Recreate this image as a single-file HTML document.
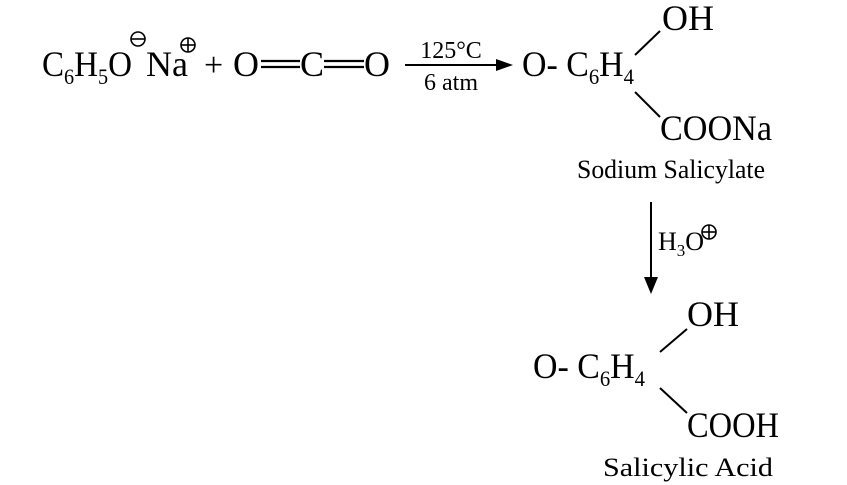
<!DOCTYPE html>
<html><head><meta charset="utf-8"><style>
html,body{margin:0;padding:0;background:#fff;}
svg{display:block;}
text{font-family:"Liberation Serif",serif;fill:#000;}
</style></head><body>
<svg width="847" height="485" viewBox="0 0 847 485" xmlns="http://www.w3.org/2000/svg">
<!-- Reactants -->
<text x="42" y="76" font-size="36" textLength="90" lengthAdjust="spacingAndGlyphs">C<tspan font-size="22" dy="8">6</tspan><tspan dy="-8">H</tspan><tspan font-size="22" dy="8">5</tspan><tspan dy="-8">O</tspan></text>
<circle cx="138" cy="39" r="7" fill="none" stroke="#000" stroke-width="1.6"/>
<line x1="131" y1="39" x2="145" y2="39" stroke="#000" stroke-width="1.6"/>
<text x="146" y="76" font-size="36">Na</text>
<circle cx="188" cy="45" r="7" fill="none" stroke="#000" stroke-width="1.6"/>
<line x1="181" y1="45" x2="195" y2="45" stroke="#000" stroke-width="1.6"/>
<line x1="188" y1="38" x2="188" y2="52" stroke="#000" stroke-width="1.6"/>
<text x="204" y="76" font-size="34">+</text>
<text x="233" y="76" font-size="36">O</text>
<line x1="261" y1="61" x2="300" y2="61" stroke="#000" stroke-width="2.2"/>
<line x1="261" y1="67" x2="300" y2="67" stroke="#000" stroke-width="2.2"/>
<text x="300" y="76" font-size="36">C</text>
<line x1="324" y1="61" x2="364" y2="61" stroke="#000" stroke-width="2.2"/>
<line x1="324" y1="67" x2="364" y2="67" stroke="#000" stroke-width="2.2"/>
<text x="364" y="76" font-size="36">O</text>
<!-- Arrow 1 -->
<line x1="405" y1="65" x2="500" y2="65" stroke="#000" stroke-width="2"/>
<polygon points="496,59 513,65 496,71" fill="#000"/>
<text x="451" y="58" font-size="24" text-anchor="middle">125°C</text>
<text x="451" y="90" font-size="24" text-anchor="middle">6 atm</text>
<!-- Product 1 -->
<text x="662" y="30" font-size="36">OH</text>
<text x="522" y="76" font-size="36" textLength="112" lengthAdjust="spacingAndGlyphs">O- C<tspan font-size="22" dy="8">6</tspan><tspan dy="-8">H</tspan><tspan font-size="22" dy="8">4</tspan></text>
<line x1="635" y1="55" x2="660" y2="31" stroke="#000" stroke-width="2"/>
<line x1="635" y1="92" x2="660" y2="117" stroke="#000" stroke-width="2"/>
<text x="660" y="140" font-size="36" textLength="112" lengthAdjust="spacingAndGlyphs">COONa</text>
<text x="577" y="178" font-size="26" textLength="188" lengthAdjust="spacingAndGlyphs">Sodium Salicylate</text>
<!-- Arrow 2 -->
<line x1="651" y1="202" x2="651" y2="280" stroke="#000" stroke-width="2"/>
<polygon points="644,277 651,294 658,277" fill="#000"/>
<text x="658" y="250" font-size="26">H<tspan font-size="17" dy="6">3</tspan><tspan dy="-6">O</tspan></text>
<circle cx="709" cy="232" r="7" fill="none" stroke="#000" stroke-width="1.6"/>
<line x1="702" y1="232" x2="716" y2="232" stroke="#000" stroke-width="1.6"/>
<line x1="709" y1="225" x2="709" y2="239" stroke="#000" stroke-width="1.6"/>
<!-- Product 2 -->
<text x="687" y="326" font-size="36">OH</text>
<text x="533" y="378" font-size="36" textLength="112" lengthAdjust="spacingAndGlyphs">O- C<tspan font-size="22" dy="8">6</tspan><tspan dy="-8">H</tspan><tspan font-size="22" dy="8">4</tspan></text>
<line x1="660" y1="352" x2="687" y2="329" stroke="#000" stroke-width="2"/>
<line x1="660" y1="388" x2="687" y2="413" stroke="#000" stroke-width="2"/>
<text x="687" y="437" font-size="36" textLength="92" lengthAdjust="spacingAndGlyphs">COOH</text>
<text x="603" y="476" font-size="26" textLength="170" lengthAdjust="spacingAndGlyphs">Salicylic Acid</text>
</svg>
</body></html>
